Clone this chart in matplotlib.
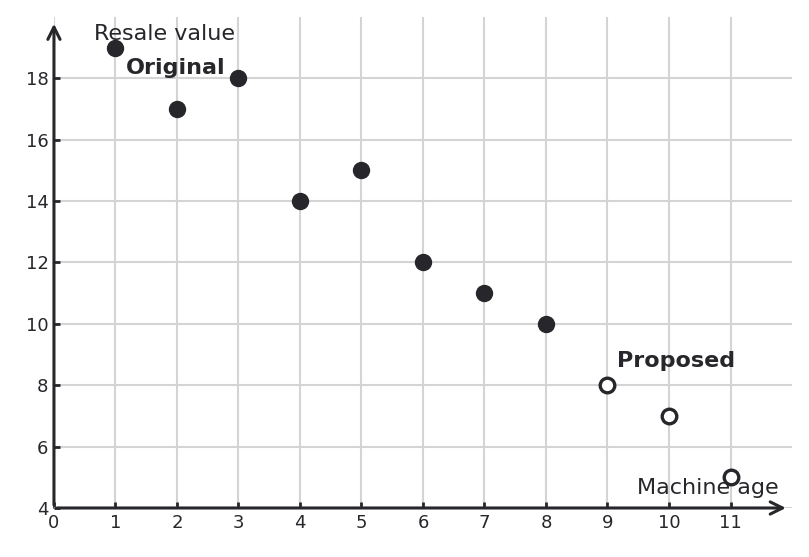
import matplotlib
matplotlib.use("Agg")
import matplotlib.pyplot as plt

# machine age vs resale value
orig_age = [1, 2, 3, 4, 5, 6, 7, 8]
orig_value = [19, 17, 18, 14, 15, 12, 11, 10]
prop_age = [9, 10, 11]
prop_value = [8, 7, 5]

x_ticks = list(range(0, 12))
y_ticks = list(range(4, 20, 2))

dark = "#27272b"
grid_col = "#d4d4d4"

fig = plt.figure(figsize=(8.09, 5.57), dpi=100)
ax = fig.add_axes([0.0667, 0.088, 0.9123, 0.8815])
ax.set_xlim(0, 12)
ax.set_ylim(4, 20)
ax.set_xticks(x_ticks)
ax.set_yticks(y_ticks)
ax.grid(True, color=grid_col, linewidth=1.5, zorder=0)
ax.set_axisbelow(True)
for s in ax.spines.values():
    s.set_visible(False)
ax.tick_params(direction="in", length=4, width=2, color=dark,
               labelsize=13, labelcolor=dark, pad=4)

# axis arrows
ax.annotate("", xy=(11.9, 4), xytext=(0.05, 4),
            arrowprops=dict(arrowstyle="->", color=dark, lw=2.2,
                            mutation_scale=22, shrinkA=0, shrinkB=0),
            annotation_clip=False, zorder=5)
ax.annotate("", xy=(0, 19.78), xytext=(0, 4.1),
            arrowprops=dict(arrowstyle="->", color=dark, lw=2.2,
                            mutation_scale=22, shrinkA=0, shrinkB=0),
            annotation_clip=False, zorder=5)

ax.plot(orig_age, orig_value, "o", color=dark, markersize=11.5,
        zorder=6, clip_on=False)
ax.plot(prop_age, prop_value, "o", markerfacecolor="white",
        markeredgecolor=dark, markeredgewidth=2.4, markersize=10.5,
        zorder=6, clip_on=False)

ax.text(1.8, 19.45, "Resale value", fontsize=16, color=dark,
        ha="center", va="center", zorder=7)
ax.text(1.98, 18.35, "Original", fontsize=16, color=dark,
        fontweight="bold", ha="center", va="center", zorder=7)
ax.text(10.12, 8.78, "Proposed", fontsize=16, color=dark,
        fontweight="bold", ha="center", va="center", zorder=7)
ax.text(10.63, 4.65, "Machine age", fontsize=16, color=dark,
        ha="center", va="center", zorder=7)

fig.savefig("out.png", dpi=100)
